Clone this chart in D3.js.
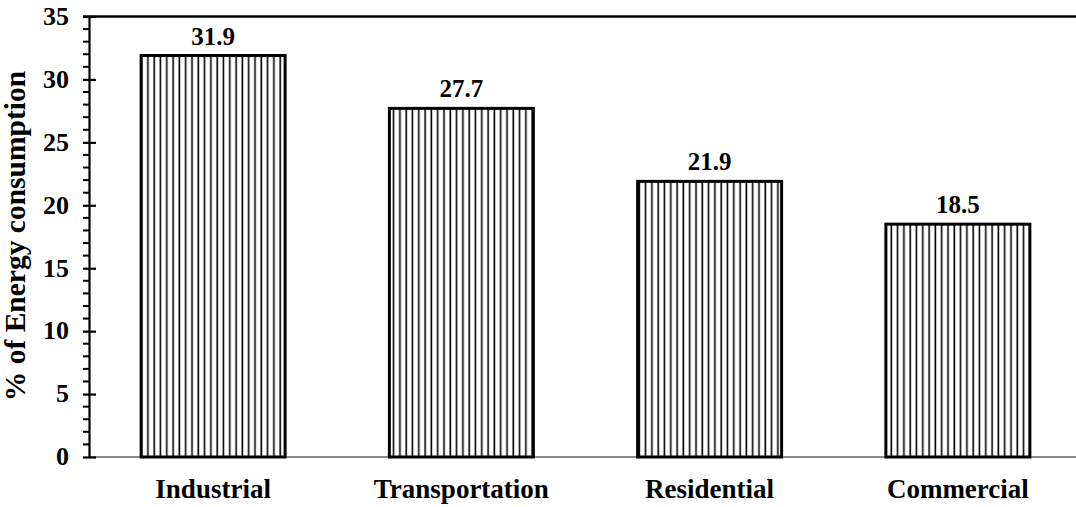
<!DOCTYPE html>
<html>
<head>
<meta charset="utf-8">
<script src="https://cdn.jsdelivr.net/npm/d3@7"></script>
<style>
  html, body { margin: 0; padding: 0; background: #fff; }
  svg { display: block; }
  text { font-family: "Liberation Serif", "Times New Roman", serif; font-weight: bold; fill: #000; }
</style>
</head>
<body>
<svg id="chart" width="1076" height="507"></svg>
<script>
// Share of energy consumption by end-use sector (%)
const categories = ["Industrial", "Transportation", "Residential", "Commercial"];
const values = [31.9, 27.7, 21.9, 18.5];
const yTicks = [0, 5, 10, 15, 20, 25, 30, 35];
const yTitle = "% of Energy consumption";

const W = 1076, H = 507;
const plotLeft = 89, plotRight = 1082, plotTop = 16.5, plotBottom = 457;

const svg = d3.select("#chart");

// vertical hatch fill for the bars
const defs = svg.append("defs");
const pat = defs.append("pattern")
  .attr("id", "vhatch")
  .attr("patternUnits", "userSpaceOnUse")
  .attr("width", 6.3)
  .attr("height", 10);
pat.append("rect").attr("width", 6.3).attr("height", 10).attr("fill", "#fff");
pat.append("line")
  .attr("x1", 3).attr("x2", 3).attr("y1", 0).attr("y2", 10)
  .attr("stroke", "#000").attr("stroke-width", 1.6);

const x = d3.scaleBand()
  .domain(categories)
  .range([plotLeft, plotRight])
  .paddingInner(0.42)
  .paddingOuter(0.21);

const y = d3.scaleLinear().domain([0, 35]).range([plotBottom, plotTop]);

// top frame line
svg.append("line")
  .attr("x1", 83).attr("x2", W).attr("y1", y(35)).attr("y2", y(35))
  .attr("stroke", "#000").attr("stroke-width", 2.6);

// x baseline
svg.append("line")
  .attr("x1", plotLeft).attr("x2", W).attr("y1", y(0)).attr("y2", y(0))
  .attr("stroke", "#8a8a8a").attr("stroke-width", 2);

// bars
svg.selectAll("rect.bar")
  .data(values)
  .join("rect")
  .attr("class", "bar")
  .attr("x", (d, i) => x(categories[i]))
  .attr("y", d => y(d))
  .attr("width", x.bandwidth())
  .attr("height", d => y(0) - y(d))
  .attr("fill", "url(#vhatch)")
  .attr("stroke", "#000")
  .attr("stroke-width", 3);

// value labels
svg.selectAll("text.val")
  .data(values)
  .join("text")
  .attr("class", "val")
  .attr("x", (d, i) => x(categories[i]) + x.bandwidth() / 2)
  .attr("y", d => y(d) - 11)
  .attr("text-anchor", "middle")
  .style("font-size", "25px")
  .text(d => d.toFixed(1));

// y axis with minor ticks
const minor = d3.range(0, 35.001, 1).filter(v => v % 5 !== 0);
svg.append("g")
  .selectAll("line")
  .data(minor)
  .join("line")
  .attr("x1", 83).attr("x2", plotLeft)
  .attr("y1", d => y(d)).attr("y2", d => y(d))
  .attr("stroke", "#000").attr("stroke-width", 2);

const yAxis = d3.axisLeft(y)
  .tickValues(yTicks)
  .tickSizeInner(6)
  .tickSizeOuter(0)
  .tickPadding(14)
  .tickFormat(d3.format("d"));

const gy = svg.append("g")
  .attr("transform", `translate(${plotLeft},0)`)
  .call(yAxis);
gy.select(".domain").attr("stroke", "#000").attr("stroke-width", 2.2);
gy.selectAll(".tick line")
  .attr("x1", 7).attr("x2", -6)
  .attr("stroke", "#000").attr("stroke-width", 2.2);
gy.selectAll(".tick text")
  .style("font-size", "26px")
  .style("font-family", "'Liberation Serif', 'Times New Roman', serif")
  .style("font-weight", "bold")
  .attr("fill", "#000")
  .attr("dy", "0.3em");

// category labels
svg.selectAll("text.cat")
  .data(categories)
  .join("text")
  .attr("class", "cat")
  .attr("x", d => x(d) + x.bandwidth() / 2)
  .attr("y", 498)
  .attr("text-anchor", "middle")
  .style("font-size", "27px")
  .text(d => d);

// y axis title
svg.append("text")
  .attr("transform", `translate(25,${(70 + 402) / 2}) rotate(-90)`)
  .attr("text-anchor", "middle")
  .style("font-size", "29.5px")
  .text(yTitle);
</script>
</body>
</html>
